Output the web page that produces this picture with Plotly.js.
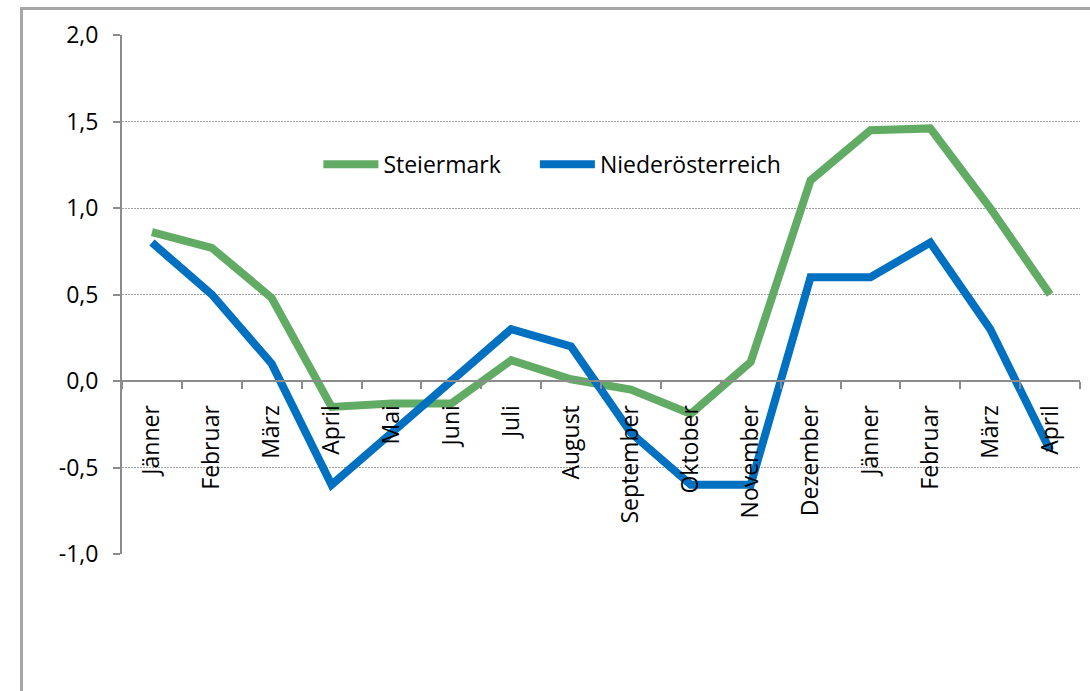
<!DOCTYPE html>
<html>
<head>
<meta charset="utf-8">
<script src="https://cdn.plot.ly/plotly-3.0.1.min.js"></script>
<style>
  html, body { margin: 0; padding: 0; background: #fff; overflow: hidden; }
  #frame { position: absolute; left: 20px; top: 7px; width: 1200px; height: 800px; border: 3px solid #a6a6a6; box-sizing: border-box; }
  #chart { position: absolute; left: 0; top: 0; width: 1090px; height: 691px; }
</style>
</head>
<body>
<div id="frame"></div>
<div id="chart"></div>
<script>
const months = ["Jänner","Februar","März","April","Mai","Juni","Juli","August","September","Oktober","November","Dezember","Jänner","Februar","März","April"];
const steiermark = [0.86, 0.77, 0.48, -0.15, -0.13, -0.13, 0.12, 0.01, -0.05, -0.19, 0.11, 1.16, 1.45, 1.46, 1.0, 0.50];
const niederoesterreich = [0.80, 0.50, 0.10, -0.60, -0.30, 0.00, 0.30, 0.20, -0.30, -0.60, -0.60, 0.60, 0.60, 0.80, 0.30, -0.40];
const yTicks = [-1.0, -0.5, 0.0, 0.5, 1.0, 1.5, 2.0];
const yTickLabels = ["-1,0", "-0,5", "0,0", "0,5", "1,0", "1,5", "2,0"];

// position index for each month slot (months repeat)
const xIdx = months.map((m, i) => i);

const FONT = "Open Sans, Noto Sans, sans-serif";

const traces = [
  { x: xIdx, y: steiermark, name: "Steiermark", type: "scatter", mode: "lines",
    line: { color: "#62ab64", width: 8 }, legend: "legend" },
  { x: xIdx, y: niederoesterreich, name: "Niederösterreich", type: "scatter", mode: "lines",
    line: { color: "#0070c0", width: 8 }, legend: "legend2" }
];

const legendBase = {
  orientation: "h", xanchor: "left", y: 0.751, yanchor: "middle",
  bgcolor: "rgba(0,0,0,0)", font: { family: FONT, size: 23, color: "#000" },
  itemwidth: 55
};

const layout = {
  width: 1090, height: 691,
  margin: { l: 122, r: 10, t: 35, b: 137, pad: 0 },
  paper_bgcolor: "rgba(0,0,0,0)",
  plot_bgcolor: "rgba(0,0,0,0)",
  separators: ",.",
  font: { family: FONT, size: 23, color: "#000" },
  showlegend: true,
  legend: Object.assign({}, legendBase, { x: 0.205 }),
  legend2: Object.assign({}, legendBase, { x: 0.431 }),
  xaxis: {
    type: "linear",
    range: [-0.5, 15.5],
    tickmode: "array", tickvals: xIdx, ticktext: months,
    tickangle: -90,
    showgrid: false, zeroline: false,
    showline: true, linecolor: "#8c8c8c", linewidth: 2,
    ticks: "",
    anchor: "free", position: 1/3,
    tickfont: { family: FONT, size: 23, color: "#000" },
    ticklabelstandoff: 14,
    fixedrange: true
  },
  xaxis2: {
    overlaying: "x", matches: "x",
    range: [-0.5, 15.5],
    tickmode: "linear", tick0: -0.5, dtick: 1,
    showticklabels: false, showgrid: false, zeroline: false, showline: false,
    ticks: "outside", ticklen: 7, tickwidth: 2, tickcolor: "#8c8c8c",
    anchor: "free", position: 1/3
  },
  yaxis: {
    range: [-1, 2],
    tickmode: "array", tickvals: yTicks, ticktext: yTickLabels,
    showgrid: true, gridcolor: "#a0a0a0", griddash: "2px,1px", gridwidth: 1,
    zeroline: false,
    showline: true, linecolor: "#8c8c8c", linewidth: 2,
    ticks: "outside", ticklen: 7, tickwidth: 2, tickcolor: "#8c8c8c",
    tickfont: { family: FONT, size: 23, color: "#000" },
    ticklabelstandoff: 10,
    fixedrange: true
  }
};

// invisible helper trace so xaxis2 draws tick marks at category boundaries
traces.push({ x: [xIdx[0]], y: [steiermark[0]], xaxis: "x2", yaxis: "y", mode: "markers",
  marker: { opacity: 0 }, showlegend: false, hoverinfo: "skip" });

Plotly.newPlot("chart", traces, layout, { displayModeBar: false, staticPlot: true });
</script>
</body>
</html>
